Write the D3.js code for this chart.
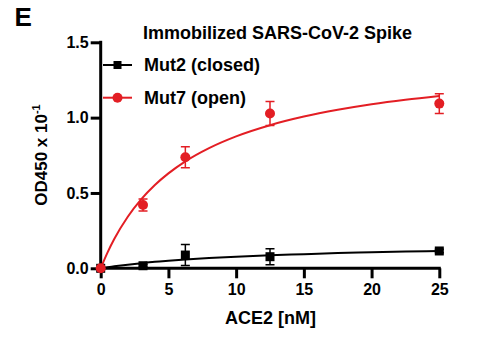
<!DOCTYPE html>
<html>
<head>
<meta charset="utf-8">
<script src="https://cdn.jsdelivr.net/npm/d3@7"></script>
<style>
  body { margin: 0; background: #fff; }
  svg { display: block; font-family: "Liberation Sans", Arial, sans-serif; font-weight: bold; }
</style>
</head>
<body>
<div id="chart"></div>
<script>
// measured data (ACE2 nM vs OD450 x 10^-1)
var conc = [0, 3.125, 6.25, 12.5, 25];
var mut2 = [0, 0.017, 0.088, 0.077, 0.115];
var mut2Err = [0, 0.008, 0.07, 0.053, 0.012];
var mut7 = [0, 0.42, 0.737, 1.027, 1.093];
var mut7Err = [0, 0.04, 0.07, 0.08, 0.065];

// fitted curves
var fitX = [0, 0.5, 1, 2, 3, 4, 5, 6.25, 8, 10, 12.5, 15, 17.5, 20, 22.5, 25];
var mut2Fit = [0, 0.007, 0.013, 0.024, 0.034, 0.043, 0.05, 0.058, 0.068, 0.077, 0.087, 0.094, 0.101, 0.106, 0.111, 0.115];
var mut7Fit = [0, 0.104, 0.194, 0.342, 0.459, 0.553, 0.63, 0.71, 0.798, 0.876, 0.95, 1.007, 1.052, 1.089, 1.119, 1.144];

var xTicks = [0, 5, 10, 15, 20, 25];
var yTicks = [0, 0.5, 1.0, 1.5];

var red = "#e31e24";
var w = 481, h = 353;

var svg = d3.select("#chart").append("svg")
    .attr("width", w)
    .attr("height", h);

var x = d3.scaleLinear().domain([0, 25]).range([100.7, 439.3]);
var y = d3.scaleLinear().domain([0, 1.5]).range([268.3, 42.3]);

// axes
var xAxis = svg.append("g")
    .attr("transform", "translate(0," + y(0) + ")")
    .call(d3.axisBottom(x).tickValues(xTicks).tickSize(10).tickPadding(5).tickSizeOuter(0));
var yAxis = svg.append("g")
    .attr("transform", "translate(" + x(0) + ",0)")
    .call(d3.axisLeft(y).tickValues(yTicks).tickSize(10).tickPadding(2).tickFormat(d3.format(".1f")).tickSizeOuter(0));

[xAxis, yAxis].forEach(function(g) {
    g.select(".domain").attr("stroke", "#000").attr("stroke-width", 3);
    g.selectAll(".tick line").attr("stroke", "#000").attr("stroke-width", 3);
    g.selectAll(".tick text")
        .attr("fill", "#000")
        .style("font-size", "16px")
        .style("font-family", "Liberation Sans, Arial, sans-serif")
        .style("font-weight", "bold");
});
xAxis.select(".domain").attr("d", "M" + (x(0) - 1.5) + ",0H" + (x(25) + 1.5));
yAxis.select(".domain").attr("d", "M0," + (y(0) + 1.5) + "V" + (y(1.5) - 1.5));

// fit lines
var line = function(vals) {
    return d3.line()
        .x(function(d, i) { return x(fitX[i]); })
        .y(function(d) { return y(d); })
        .curve(d3.curveMonotoneX)(vals);
};
svg.append("path").attr("d", line(mut2Fit)).attr("fill", "none")
    .attr("stroke", "#000").attr("stroke-width", 2);
svg.append("path").attr("d", line(mut7Fit)).attr("fill", "none")
    .attr("stroke", red).attr("stroke-width", 2);

// error bars
function errorBars(vals, errs, color) {
    var g = svg.append("g").attr("stroke", color).attr("stroke-width", 1.5).attr("fill", "none");
    conc.forEach(function(c, i) {
        if (errs[i] <= 0) return;
        var cx = x(c), top = y(vals[i] + errs[i]), bot = y(vals[i] - errs[i]);
        g.append("path").attr("d",
            "M" + cx + "," + top + "V" + bot +
            "M" + (cx - 4.5) + "," + top + "H" + (cx + 4.5) +
            "M" + (cx - 4.5) + "," + bot + "H" + (cx + 4.5));
    });
}
errorBars(mut2, mut2Err, "#000");
errorBars(mut7, mut7Err, red);

// markers
svg.selectAll("rect.mut2").data(mut2).enter().append("rect")
    .attr("class", "mut2")
    .attr("x", function(d, i) { return x(conc[i]) - 4.5; })
    .attr("y", function(d) { return y(d) - 4.5; })
    .attr("width", 9).attr("height", 9)
    .attr("fill", "#000");
svg.selectAll("circle.mut7").data(mut7).enter().append("circle")
    .attr("class", "mut7")
    .attr("cx", function(d, i) { return x(conc[i]); })
    .attr("cy", function(d) { return y(d); })
    .attr("r", 5)
    .attr("fill", red);

// legend
var legend = [
    { label: "Mut2 (closed)", color: "#000", shape: "square", y: 65 },
    { label: "Mut7 (open)", color: red, shape: "circle", y: 97.7 }
];
legend.forEach(function(l) {
    var g = svg.append("g");
    g.append("line").attr("x1", 103).attr("x2", 132).attr("y1", l.y).attr("y2", l.y)
        .attr("stroke", l.color).attr("stroke-width", 2);
    if (l.shape === "square") {
        g.append("rect").attr("x", 117.5 - 4).attr("y", l.y - 4).attr("width", 8).attr("height", 8).attr("fill", l.color);
    } else {
        g.append("circle").attr("cx", 117.5).attr("cy", l.y).attr("r", 5).attr("fill", l.color);
    }
    g.append("text").attr("x", 144).attr("y", l.y + 6.3)
        .style("font-size", "18px").text(l.label);
});

// titles
svg.append("text").attr("x", 14.5).attr("y", 25.7).style("font-size", "26px").text("E");
svg.append("text").attr("x", 277.5).attr("y", 39).attr("text-anchor", "middle")
    .style("font-size", "18px").text("Immobilized SARS-CoV-2 Spike");
svg.append("text").attr("x", 270.5).attr("y", 324.3).attr("text-anchor", "middle")
    .style("font-size", "18px").text("ACE2 [nM]");

var yt = svg.append("text")
    .attr("transform", "translate(46.7,155) rotate(-90)")
    .attr("text-anchor", "middle")
    .style("font-size", "17px");
yt.append("tspan").text("OD450 x 10");
yt.append("tspan").attr("dy", -7).style("font-size", "11px").text("-1");
</script>
</body>
</html>
